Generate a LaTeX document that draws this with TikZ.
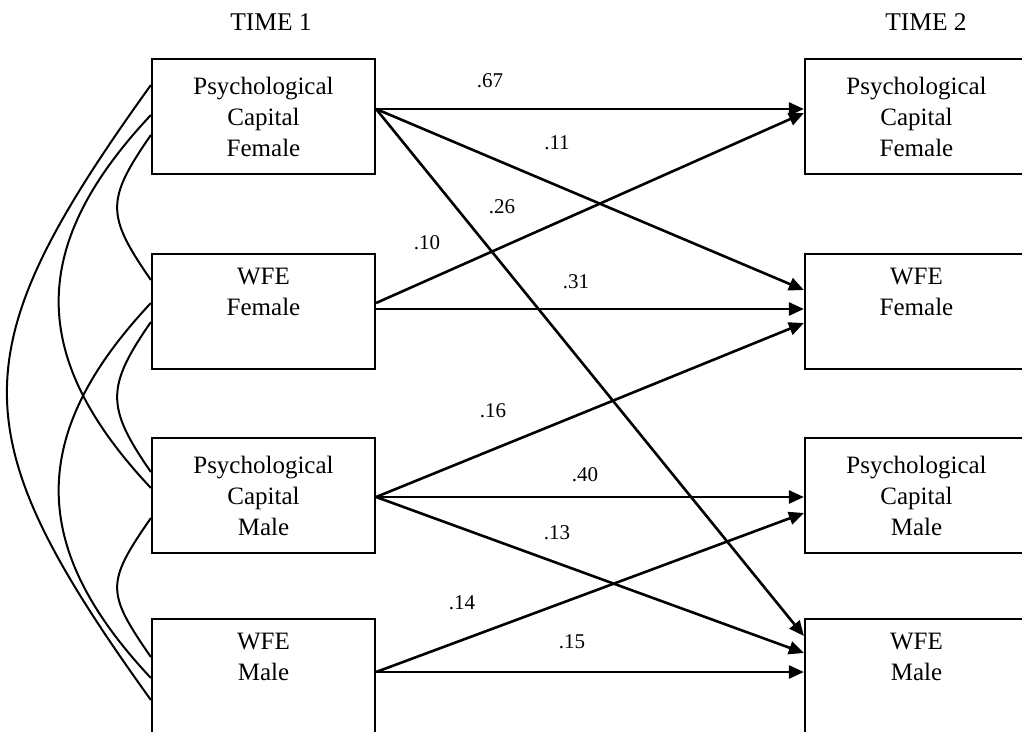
\documentclass[tikz,border=0pt]{standalone}
\usepackage{fontspec}
\setmainfont{Liberation Serif}
\usetikzlibrary{arrows.meta}
\begin{document}
\begin{tikzpicture}[x=1pt,y=-1pt,
  var/.style={draw, line width=2.2pt, minimum width=223pt, minimum height=115pt,
    inner sep=0pt, align=center, font=\fontsize{25}{31}\selectfont},
  path/.style={line width=2.6pt, -{Triangle[length=15pt,width=13pt]}},
  corr/.style={line width=2pt},
  coef/.style={font=\fontsize{21}{24}\selectfont, inner sep=0pt},
  head/.style={font=\fontsize{25.5}{30}\selectfont, inner sep=0pt}]
\clip (0,0) rectangle (1022,731);
\fill[white] (0,0) rectangle (1022,731);

\node[head] (t1) at (271,22) {TIME 1};
\node[head] (t2) at (926,22) {TIME 2};

\node[var] (L1) at (263.5,116.5) {Psychological\\Capital\\Female};
\node[var] (L2) at (263.5,311.5) {WFE\\Female\\\strut};
\node[var] (L3) at (263.5,495.5) {Psychological\\Capital\\Male};
\node[var] (L4) at (263.5,676.5) {WFE\\Male\\\strut};

\node[var] (R1) at (916.5,116.5) {Psychological\\Capital\\Female};
\node[var] (R2) at (916.5,311.5) {WFE\\Female\\\strut};
\node[var] (R3) at (916.5,495.5) {Psychological\\Capital\\Male};
\node[var] (R4) at (916.5,676.5) {WFE\\Male\\\strut};

% correlations
\draw[corr] ([yshift=-18.5pt]L1.west) .. controls +(-45,65) and +(-45,-65) .. ([yshift=31.5pt]L2.west);
\draw[corr] ([yshift=-10.5pt]L2.west) .. controls +(-45,65) and +(-45,-65) .. ([yshift=23.5pt]L3.west);
\draw[corr] ([yshift=-22.5pt]L3.west) .. controls +(-45,65) and +(-45,-65) .. ([yshift=19.5pt]L4.west);
\draw[corr] ([yshift=1.5pt]L1.west) .. controls +(-123,131) and +(-123,-131) .. ([yshift=7.5pt]L3.west);
\draw[corr] ([yshift=8.5pt]L2.west) .. controls +(-123,131) and +(-123,-131) .. ([yshift=-1.5pt]L4.west);
\draw[corr] ([yshift=31.5pt]L1.west) .. controls +(-192,267) and +(-192,-267) .. ([yshift=-23.5pt]L4.west);

% paths
\draw[path] ([yshift=7.5pt]L1.east) -- ([yshift=7.5pt]R1.west);
\draw[path] ([yshift=7.5pt]L1.east) -- ([yshift=21.5pt]R2.west);
\draw[path] ([yshift=7.5pt]L1.east) -- ([yshift=40.5pt]R4.west);
\draw[path] ([yshift=8.5pt]L2.east) -- ([yshift=3.5pt]R1.west);
\draw[path] ([yshift=2.5pt]L2.east) -- ([yshift=2.5pt]R2.west);
\draw[path] ([yshift=-1.5pt]L3.east) -- ([yshift=-11.5pt]R2.west);
\draw[path] ([yshift=-1.5pt]L3.east) -- ([yshift=-1.5pt]R3.west);
\draw[path] ([yshift=-1.5pt]L3.east) -- ([yshift=23.5pt]R4.west);
\draw[path] ([yshift=4.5pt]L4.east) -- ([yshift=-17.5pt]R3.west);
\draw[path] ([yshift=4.5pt]L4.east) -- ([yshift=4.5pt]R4.west);

% coefficients
\node[coef] (c67) at (490,81) {.67};
\node[coef] (c11) at (557,143) {.11};
\node[coef] (c26) at (502,207) {.26};
\node[coef] (c10) at (427,243) {.10};
\node[coef] (c31) at (576,282) {.31};
\node[coef] (c16) at (493,411) {.16};
\node[coef] (c40) at (585,475) {.40};
\node[coef] (c13) at (557,533) {.13};
\node[coef] (c14) at (462,603) {.14};
\node[coef] (c15) at (572,642) {.15};
\end{tikzpicture}
\end{document}
